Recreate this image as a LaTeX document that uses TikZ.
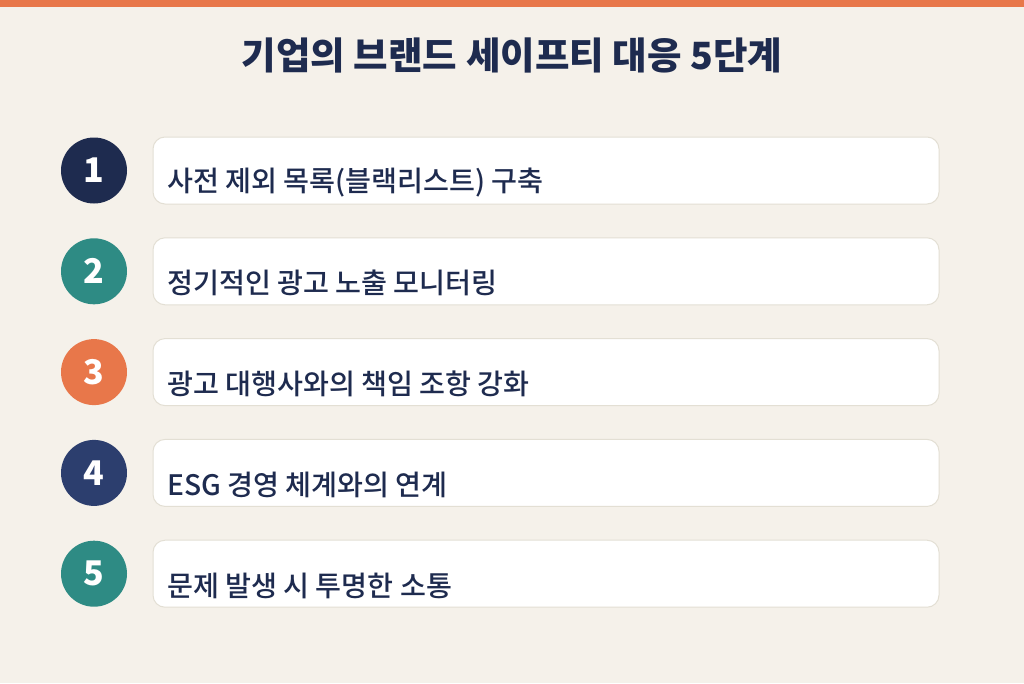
\documentclass[tikz,border=0pt]{standalone}
\usepackage{fontspec}
\setmainfont{Noto Sans CJK KR}
\newfontfamily\krmed{Noto Sans CJK KR Medium}
\definecolor{bgc}{HTML}{F5F1EA}
\definecolor{topbar}{HTML}{E8774A}
\definecolor{navy}{HTML}{1E2B4F}
\definecolor{teal}{HTML}{2E8B84}
\definecolor{orng}{HTML}{E8774A}
\definecolor{navyb}{HTML}{2C3E6E}
\definecolor{boxline}{HTML}{E3DFD4}
\definecolor{txt}{HTML}{1E2B4F}
\tikzset{
  stepcircle/.style={circle, minimum size=66pt, inner sep=0pt, text=white, font=\fontsize{34}{36}\selectfont\bfseries},
  stepbox/.style={draw=boxline, line width=1pt, fill=white, rounded corners=12pt, minimum width=786pt, minimum height=67pt, inner sep=0pt},
  steptext/.style={anchor=west, text=txt, font=\fontsize{28.2}{30}\selectfont\krmed, inner sep=0pt}
}
\begin{document}
\begin{tikzpicture}[x=1pt,y=-1pt]
\useasboundingbox (0,0) rectangle (1024,683);
\fill[bgc] (0,0) rectangle (1024,683);
\fill[topbar] (0,0) rectangle (1024,7);
\node[text=navy, font=\fontsize{37.5}{40}\selectfont\bfseries] (title) at (512,55) {기업의 브랜드 세이프티 대응 5단계};
\foreach \i/\c/\t in {1/navy/{사전 제외 목록(블랙리스트) 구축},2/teal/{정기적인 광고 노출 모니터링},3/orng/{광고 대행사와의 책임 조항 강화},4/navyb/{ESG 경영 체계와의 연계},5/teal/{문제 발생 시 투명한 소통}}{
  \pgfmathsetmacro{\yy}{170.5+100.8*(\i-1)}
  \node[stepcircle, fill=\c] (c\i) at (94,\yy) {\i};
  \node[stepbox] (b\i) at (546,\yy) {};
  \node[steptext] (t\i) at (167,\yy+12) {\t};
}
\end{tikzpicture}
\end{document}
